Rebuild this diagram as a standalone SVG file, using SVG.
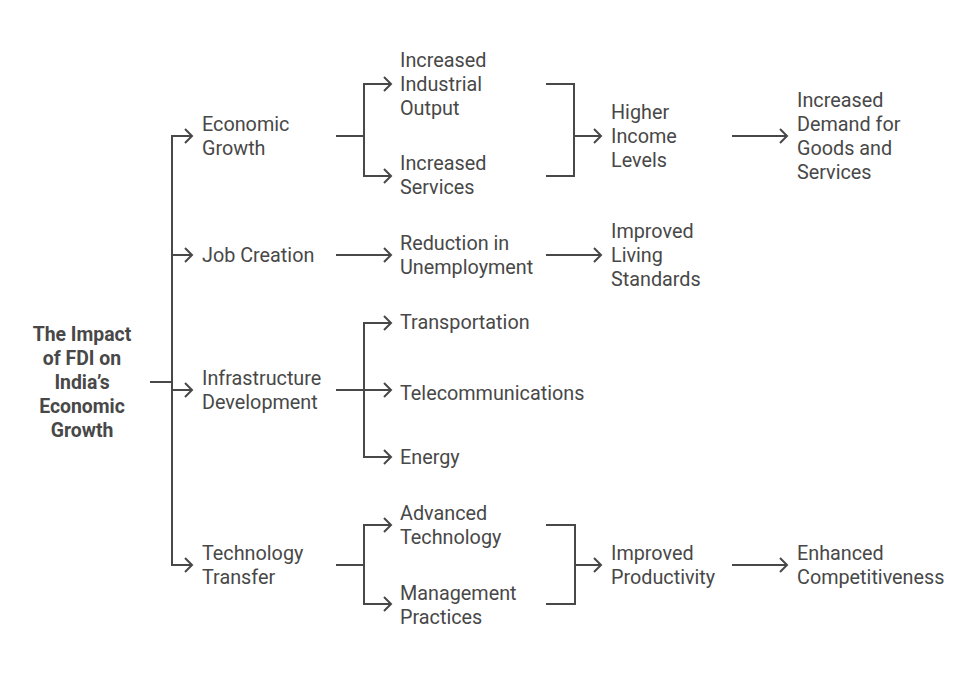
<svg xmlns="http://www.w3.org/2000/svg" width="974" height="677" viewBox="0 0 974 677">
<style>
.t{font-family:Roboto,"Liberation Sans",sans-serif;font-size:19.8px;fill:#484848}
.r{font-family:Roboto,"Liberation Sans",sans-serif;font-size:19.4px;font-weight:bold;fill:#484848;text-anchor:middle}
.c{fill:none;stroke:#484848;stroke-width:2}
.ar{marker-end:url(#a)}
</style>
<defs>
<marker id="a" markerUnits="userSpaceOnUse" markerWidth="12" markerHeight="18" refX="9" refY="9" orient="auto">
<path d="M2,2 L9,9 L2,16" fill="none" stroke="#484848" stroke-width="2"/>
</marker>
</defs>
<rect width="974" height="677" fill="#fff"/>
<g id="connectors">
<path class="c" d="M150,382 H172"/>
<path class="c ar" d="M172,382 V136 H192"/>
<path class="c ar" d="M172,382 V565 H192"/>
<path class="c ar" d="M172,255 H192"/>
<path class="c ar" d="M172,390 H192"/>
<path class="c" d="M336,136 H364"/>
<path class="c ar" d="M364,136 V84 H391"/>
<path class="c ar" d="M364,136 V176 H391"/>
<path class="c ar" d="M546,84 H574 V136 H601"/>
<path class="c" d="M546,176 H574 V136"/>
<path class="c ar" d="M732,136 H787"/>
<path class="c ar" d="M336,255 H391"/>
<path class="c ar" d="M546,255 H601"/>
<path class="c" d="M336,390 H364"/>
<path class="c ar" d="M364,390 V323 H391"/>
<path class="c ar" d="M364,390 H391"/>
<path class="c ar" d="M364,390 V457 H391"/>
<path class="c" d="M336,565 H364"/>
<path class="c ar" d="M364,565 V525 H391"/>
<path class="c ar" d="M364,565 V604 H391"/>
<path class="c ar" d="M546,525 H575 V565 H601"/>
<path class="c" d="M546,604 H575 V565"/>
<path class="c ar" d="M732,565 H787"/>
</g>
<g id="root">
<text class="r" x="82" y="341">The Impact</text>
<text class="r" x="82" y="365">of FDI on</text>
<text class="r" x="82" y="389">India’s</text>
<text class="r" x="82" y="413">Economic</text>
<text class="r" x="82" y="437">Growth</text>
</g>
<g id="economic-growth"><text class="t" x="202" y="131">Economic</text><text class="t" x="202" y="155">Growth</text></g>
<g id="job-creation"><text class="t" x="202" y="262">Job Creation</text></g>
<g id="infrastructure"><text class="t" x="202" y="385">Infrastructure</text><text class="t" x="202" y="409">Development</text></g>
<g id="technology-transfer"><text class="t" x="202" y="560">Technology</text><text class="t" x="202" y="584">Transfer</text></g>
<g id="industrial-output"><text class="t" x="400" y="67">Increased</text><text class="t" x="400" y="91">Industrial</text><text class="t" x="400" y="115">Output</text></g>
<g id="services"><text class="t" x="400" y="170">Increased</text><text class="t" x="400" y="194">Services</text></g>
<g id="higher-income"><text class="t" x="611" y="119">Higher</text><text class="t" x="611" y="143">Income</text><text class="t" x="611" y="167">Levels</text></g>
<g id="demand"><text class="t" x="797" y="107">Increased</text><text class="t" x="797" y="131">Demand for</text><text class="t" x="797" y="155">Goods and</text><text class="t" x="797" y="179">Services</text></g>
<g id="unemployment"><text class="t" x="400" y="250">Reduction in</text><text class="t" x="400" y="274">Unemployment</text></g>
<g id="living-standards"><text class="t" x="611" y="238">Improved</text><text class="t" x="611" y="262">Living</text><text class="t" x="611" y="286">Standards</text></g>
<g id="transportation"><text class="t" x="400" y="329">Transportation</text></g>
<g id="telecom"><text class="t" x="400" y="400">Telecommunications</text></g>
<g id="energy"><text class="t" x="400" y="464">Energy</text></g>
<g id="advanced-tech"><text class="t" x="400" y="520">Advanced</text><text class="t" x="400" y="544">Technology</text></g>
<g id="management"><text class="t" x="400" y="600">Management</text><text class="t" x="400" y="624">Practices</text></g>
<g id="productivity"><text class="t" x="611" y="560">Improved</text><text class="t" x="611" y="584">Productivity</text></g>
<g id="competitiveness"><text class="t" x="797" y="560">Enhanced</text><text class="t" x="797" y="584">Competitiveness</text></g>
</svg>
